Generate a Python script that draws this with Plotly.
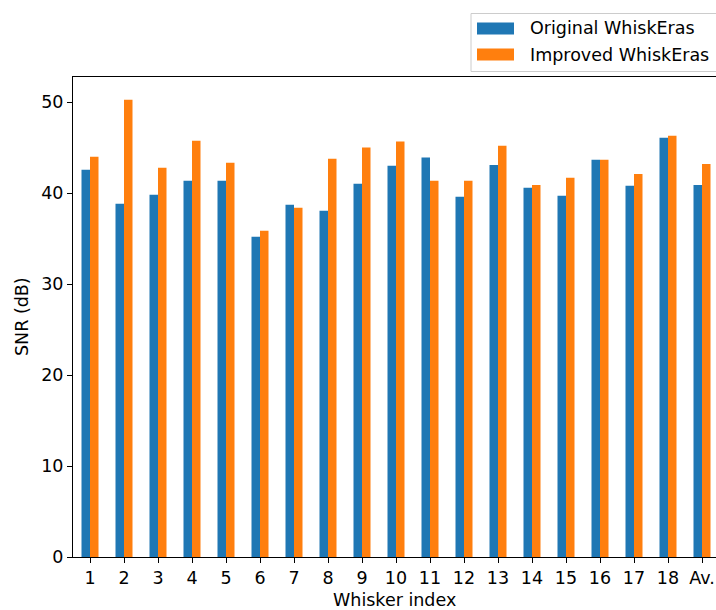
import plotly.graph_objects as go

# Whisker labels and SNR per whisker (dB)
whiskers = ["1", "2", "3", "4", "5", "6", "7", "8", "9", "10",
            "11", "12", "13", "14", "15", "16", "17", "18", "Av."]
snr_original = [42.56, 38.82, 39.81, 41.35, 41.35, 35.20, 38.72, 38.06, 41.02, 43.00,
                43.90, 39.60, 43.10, 40.58, 39.70, 43.66, 40.80, 46.08, 40.90]
snr_improved = [43.99, 50.25, 42.79, 45.75, 43.33, 35.86, 38.39, 43.77, 45.00, 45.66,
                41.35, 41.35, 45.20, 40.90, 41.68, 43.66, 42.10, 46.30, 43.20]
series_names = ["Original WhiskEras", "Improved WhiskEras"]
series_colors = ["#1f77b4", "#ff7f0e"]

W, H = 716, 610
L, R, T, B = 73, 0, 77, 53
FONT = "DejaVu Sans"
FS = 17.5

x_idx = list(range(len(whiskers)))

fig = go.Figure()
for name, vals, col in zip(series_names, [snr_original, snr_improved], series_colors):
    fig.add_trace(go.Bar(x=x_idx, y=vals, name=name, marker_color=col,
                         marker_line_width=0, showlegend=False))

pw = W - L - R
ph = H - T - B


def px_x(p):
    return (p - L) / pw


def px_y(p):
    return (H - B - p) / ph


# legend box drawn in the upper right, partly beyond the right edge
shapes = [dict(type="rect", xref="paper", yref="paper",
               x0=px_x(471), x1=px_x(740), y0=px_y(71.5), y1=px_y(13.5),
               line=dict(color="#cccccc", width=1), fillcolor="rgba(255,255,255,0.8)",
               layer="above")]
annotations = []
for i, (name, col) in enumerate(zip(series_names, series_colors)):
    yc = 28.5 + i * 26
    shapes.append(dict(type="rect", xref="paper", yref="paper",
                       x0=px_x(477), x1=px_x(514), y0=px_y(yc + 6), y1=px_y(yc - 6),
                       line=dict(width=0), fillcolor=col, layer="above"))
    annotations.append(dict(text=name, xref="paper", yref="paper",
                            x=px_x(528), y=px_y(yc), xanchor="left", yanchor="middle",
                            showarrow=False, font=dict(family=FONT, size=FS, color="black")))

annotations.append(dict(text="SNR (dB)", xref="paper", yref="paper", textangle=-90,
                        x=px_x(22), y=0.5, xanchor="center", yanchor="middle",
                        showarrow=False, font=dict(family=FONT, size=FS, color="black")))
annotations.append(dict(text="Whisker index", xref="paper", yref="paper",
                        x=0.5, y=px_y(599.5), xanchor="center", yanchor="middle",
                        showarrow=False, font=dict(family=FONT, size=FS, color="black")))

fig.update_layout(
    width=W, height=H,
    margin=dict(l=L, r=R, t=T, b=B, pad=0),
    paper_bgcolor="white", plot_bgcolor="white",
    barmode="group", bargap=0.5, bargroupgap=0,
    font=dict(family=FONT, size=FS, color="black"),
    shapes=shapes, annotations=annotations,
)
fig.update_xaxes(
    range=[-0.5, -0.5 + pw / 34.0],
    tickmode="array", tickvals=x_idx, ticktext=whiskers,
    ticks="outside", ticklen=5, tickwidth=1.1, tickcolor="black",
    showline=True, linecolor="black", linewidth=1.1, mirror=True,
    showgrid=False, zeroline=False,
    tickfont=dict(family=FONT, size=FS, color="black"),
)
fig.update_yaxes(
    range=[0, 52.76],
    tickmode="array", tickvals=[0, 10, 20, 30, 40, 50],
    ticks="outside", ticklen=5, tickwidth=1.1, tickcolor="black",
    showline=True, linecolor="black", linewidth=1.1, mirror=False,
    showgrid=False, zeroline=False,
    tickfont=dict(family=FONT, size=FS, color="black"),
)

fig.write_html("out.html")
